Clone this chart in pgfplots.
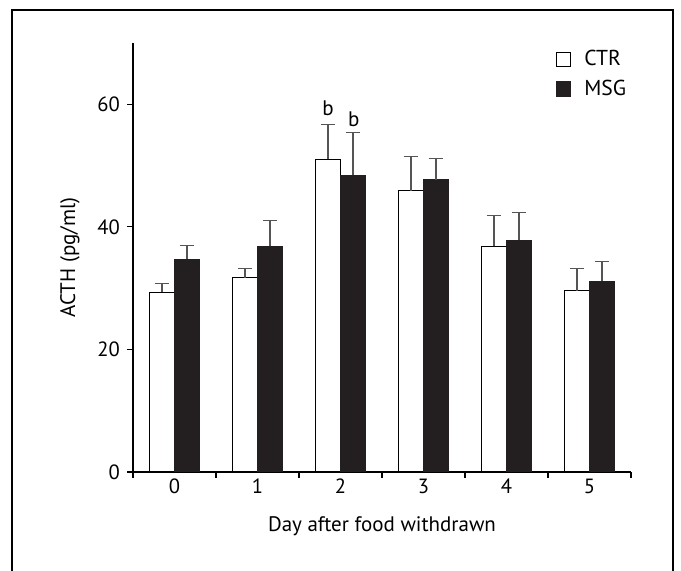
\documentclass[border=0pt]{standalone}
\usepackage{fontspec}
\setmainfont{PT Sans}
\usepackage{pgfplots}
\pgfplotsset{compat=1.18}
\definecolor{msg}{HTML}{231F20}
\definecolor{errc}{HTML}{555555}
\pgfplotstableread{
x y e
-0.15 29.3 1.5
0.85 31.7 1.5
1.85 51.0 5.7
2.85 45.9 5.6
3.85 36.8 5.0
4.85 29.6 3.6
}\ctr
\pgfplotstableread{
x y e
0.15 34.7 2.3
1.15 36.8 4.3
2.15 48.4 7.0
3.15 47.7 3.5
4.15 37.8 4.5
5.15 31.1 3.2
}\msgdata
\begin{document}
\begin{tikzpicture}
\path[use as bounding box] (-66.5pt,-49.5pt) rectangle (274pt,236pt);
\draw[line width=0.9pt] (-60.5pt,-49.5pt) -- (-60.5pt,231pt) -- (270pt,231pt) -- (270pt,-49.5pt);
\begin{axis}[
  at={(0pt,0pt)}, anchor=south west,
  scale only axis, width=249pt, height=214.5pt,
  xmin=-0.5, xmax=5.5, ymin=0, ymax=70,
  axis x line*=bottom, axis y line*=left,
  axis line style={line width=0.6pt},
  tick align=outside, major tick length=3pt,
  tick style={line width=0.6pt, black},
  ytick={0,20,40,60},
  xtick={-0.5,0.5,1.5,2.5,3.5,4.5,5.5}, xticklabels={},
  extra x ticks={0,1,2,3,4,5},
  extra x tick style={major tick length=0pt},
  /pgf/number format/assume math mode=true,
  tick label style={font=\fontsize{10.3}{12}\selectfont},
  xlabel={Day after food withdrawn},
  ylabel={ACTH (pg/ml)},
  label style={font=\fontsize{10.5}{12}\selectfont},
  xlabel style={at={(axis description cs:0.5,-0.126)}, anchor=center},
  ylabel style={at={(axis description cs:-0.1265,0.5)}, anchor=center},
  legend style={at={(axis description cs:0.848,0.993)}, anchor=north west,
    draw=none, fill=none, inner sep=0pt, row sep=1.5pt, column sep=4.5pt,
    font=\fontsize{10.8}{12}\selectfont, cells={anchor=west}},
  error bars/error mark options={rotate=90, mark size=3.7pt, line width=0.6pt},
]
\addlegendimage{legend image code/.code={\draw[draw=black,fill=white,line width=0.6pt] (0pt,-3.6pt) rectangle (7.2pt,3.6pt);}}
\addlegendentry{CTR}
\addlegendimage{legend image code/.code={\draw[draw=msg,fill=msg,line width=0.6pt] (0pt,-3.6pt) rectangle (7.2pt,3.6pt);}}
\addlegendentry{MSG}
\addplot[forget plot, ybar, bar width=0.3, bar shift=0pt, draw=black, fill=white, line width=0.6pt,
  error bars/.cd, y dir=plus, y explicit, error bar style={line width=0.6pt, errc}]
  table[x=x, y=y, y error=e]{\ctr};
\addplot[forget plot, ybar, bar width=0.3, bar shift=0pt, draw=msg, fill=msg, line width=0.6pt,
  error bars/.cd, y dir=plus, y explicit, error bar style={line width=0.6pt, errc}]
  table[x=x, y=y, y error=e]{\msgdata};
\node[anchor=base, font=\fontsize{10.5}{12}\selectfont] at (axis cs:1.85,58.2) {b};
\node[anchor=base, font=\fontsize{10.5}{12}\selectfont] at (axis cs:2.16,56.3) {b};
\end{axis}
\end{tikzpicture}
\end{document}
